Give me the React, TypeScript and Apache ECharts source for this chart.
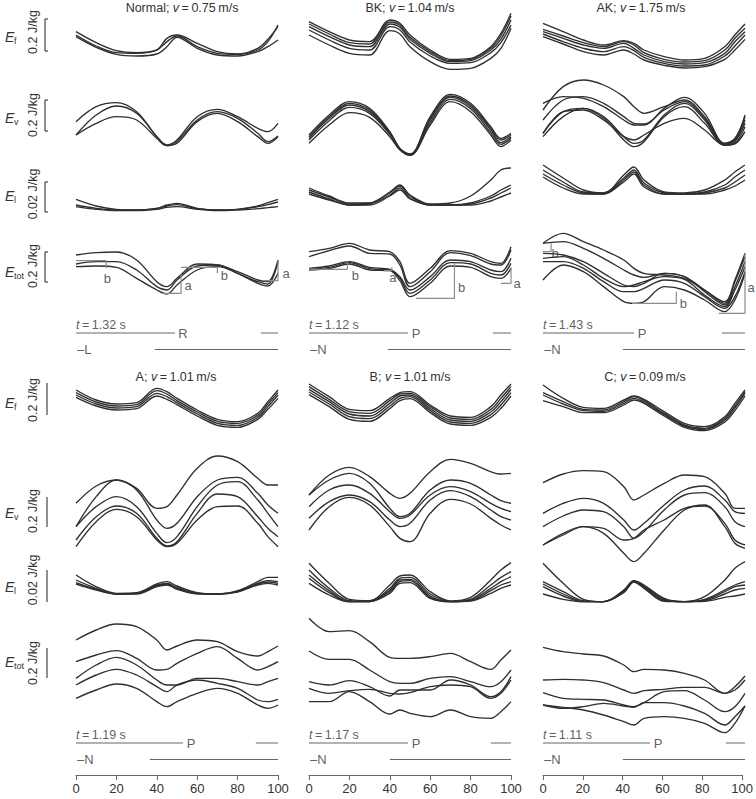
import React, { useEffect, useRef } from "react";
import * as echarts from "echarts";

// gait cycle (%) sample positions shared by every trace
const X = [0, 10, 20, 30, 40, 45, 50, 60, 70, 80, 90, 95, 100];
const X_TICKS_INTERVAL = 20;

// ---------- Normal; v = 0.75 m/s ----------
const normalEf = [
  [0.26, 0.194, 0.146, 0.134, 0.15, 0.2, 0.234, 0.17, 0.13, 0.124, 0.15, 0.2, 0.3],
  [0.24, 0.174, 0.134, 0.13, 0.15, 0.22, 0.24, 0.19, 0.14, 0.126, 0.16, 0.214, 0.29],
  [0.23, 0.166, 0.124, 0.114, 0.126, 0.17, 0.226, 0.16, 0.12, 0.114, 0.14, 0.17, 0.21],
];
const normalEv = [
  [0.23, 0.32, 0.344, 0.29, 0.14, 0.09, 0.12, 0.26, 0.304, 0.26, 0.19, 0.17, 0.22],
  [0.15, 0.27, 0.324, 0.28, 0.14, 0.086, 0.11, 0.24, 0.29, 0.25, 0.16, 0.11, 0.144],
  [0.15, 0.22, 0.26, 0.24, 0.13, 0.086, 0.1, 0.23, 0.28, 0.23, 0.14, 0.1, 0.14],
];
const normalEl = [
  [0.0094, 0.0054, 0.0034, 0.003, 0.004, 0.006, 0.007, 0.004, 0.003, 0.0034, 0.0054, 0.0074, 0.0094],
  [0.006, 0.004, 0.003, 0.003, 0.004, 0.0054, 0.0062, 0.0038, 0.003, 0.0034, 0.005, 0.0062, 0.0078],
  [0.005, 0.0034, 0.0026, 0.0026, 0.0034, 0.0046, 0.005, 0.0034, 0.0026, 0.003, 0.0038, 0.0044, 0.005],
];
const normalEtot = [
  [0.366, 0.38, 0.384, 0.336, 0.206, 0.176, 0.226, 0.312, 0.306, 0.266, 0.216, 0.206, 0.336],
  [0.312, 0.326, 0.326, 0.276, 0.176, 0.156, 0.216, 0.3, 0.306, 0.256, 0.206, 0.192, 0.326],
  [0.296, 0.3, 0.292, 0.226, 0.156, 0.132, 0.186, 0.276, 0.296, 0.256, 0.196, 0.18, 0.256],
];
const normalSteps = [
  [[0, 0.332], [15, 0.332], [15, 0.286]],
  [[43, 0.136], [52, 0.136], [52, 0.256]],
  [[52, 0.292], [70, 0.292], [70, 0.256]],
  [[93, 0.212], [100, 0.212], [100, 0.336]],
];
const normalStepLabels = [[15.5, 0.228, "b"], [55.5, 0.186, "a"], [73.5, 0.246, "b"], [104, 0.258, "a"]];

// ---------- BK; v = 1.04 m/s ----------
const bkEf = [
  [0.32, 0.26, 0.21, 0.2, 0.33, 0.31, 0.24, 0.15, 0.094, 0.1, 0.17, 0.25, 0.37],
  [0.306, 0.246, 0.194, 0.186, 0.318, 0.298, 0.226, 0.14, 0.086, 0.094, 0.16, 0.234, 0.354],
  [0.29, 0.23, 0.18, 0.17, 0.306, 0.286, 0.214, 0.13, 0.08, 0.086, 0.15, 0.214, 0.33],
  [0.27, 0.21, 0.16, 0.15, 0.29, 0.27, 0.198, 0.114, 0.07, 0.074, 0.134, 0.194, 0.3],
  [0.24, 0.18, 0.13, 0.12, 0.266, 0.246, 0.17, 0.08, 0.034, 0.04, 0.1, 0.16, 0.28],
];
const bkEv = [
  [0.15, 0.27, 0.35, 0.31, 0.17, 0.07, 0.036, 0.26, 0.394, 0.34, 0.2, 0.13, 0.16],
  [0.14, 0.26, 0.34, 0.3, 0.164, 0.068, 0.034, 0.25, 0.384, 0.33, 0.19, 0.12, 0.15],
  [0.13, 0.25, 0.33, 0.29, 0.16, 0.066, 0.032, 0.24, 0.376, 0.32, 0.18, 0.104, 0.14],
  [0.12, 0.236, 0.316, 0.28, 0.154, 0.064, 0.03, 0.224, 0.364, 0.308, 0.164, 0.094, 0.13],
  [0.1, 0.21, 0.284, 0.256, 0.14, 0.06, 0.028, 0.21, 0.35, 0.29, 0.15, 0.08, 0.12],
];
const bkEl = [
  [0.0162, 0.0114, 0.0072, 0.0072, 0.0138, 0.018, 0.012, 0.0066, 0.0072, 0.0114, 0.021, 0.027, 0.0282],
  [0.015, 0.0108, 0.0066, 0.0072, 0.0132, 0.0174, 0.0114, 0.006, 0.006, 0.0072, 0.0114, 0.015, 0.018],
  [0.0138, 0.0096, 0.006, 0.0066, 0.012, 0.0162, 0.0102, 0.006, 0.006, 0.0066, 0.0102, 0.0132, 0.0162],
  [0.0126, 0.009, 0.006, 0.006, 0.0114, 0.015, 0.0096, 0.006, 0.006, 0.006, 0.0084, 0.0108, 0.0132],
];
const bkEtot = [
  [0.386, 0.406, 0.436, 0.396, 0.386, 0.326, 0.196, 0.286, 0.392, 0.376, 0.326, 0.316, 0.416],
  [0.356, 0.392, 0.42, 0.376, 0.372, 0.306, 0.176, 0.266, 0.38, 0.362, 0.312, 0.306, 0.396],
  [0.286, 0.3, 0.326, 0.292, 0.28, 0.236, 0.156, 0.236, 0.336, 0.326, 0.276, 0.266, 0.346],
  [0.28, 0.292, 0.32, 0.284, 0.276, 0.226, 0.136, 0.216, 0.32, 0.312, 0.256, 0.246, 0.316],
  [0.276, 0.284, 0.312, 0.276, 0.272, 0.212, 0.116, 0.196, 0.3, 0.292, 0.236, 0.226, 0.286],
];
const bkSteps = [
  [[0, 0.28], [19, 0.28], [19, 0.326]],
  [[37, 0.272], [41, 0.272], [41, 0.292]],
  [[53, 0.106], [72, 0.106], [72, 0.316]],
  [[95, 0.196], [100, 0.196], [100, 0.292]],
];
const bkStepLabels = [[23, 0.246, "b"], [41.5, 0.234, "a"], [75.5, 0.174, "b"], [103, 0.198, "a"]];

// ---------- AK; v = 1.75 m/s ----------
const akEf = [
  [0.31, 0.26, 0.21, 0.18, 0.206, 0.19, 0.15, 0.11, 0.09, 0.1, 0.17, 0.24, 0.306],
  [0.274, 0.234, 0.194, 0.17, 0.2, 0.18, 0.134, 0.094, 0.078, 0.086, 0.15, 0.22, 0.28],
  [0.26, 0.22, 0.18, 0.16, 0.19, 0.16, 0.12, 0.08, 0.066, 0.074, 0.13, 0.2, 0.26],
  [0.246, 0.2, 0.16, 0.14, 0.17, 0.146, 0.106, 0.07, 0.054, 0.06, 0.114, 0.174, 0.24],
  [0.23, 0.186, 0.14, 0.12, 0.15, 0.126, 0.09, 0.058, 0.042, 0.05, 0.094, 0.15, 0.214],
];
const akEv = [
  [0.3, 0.44, 0.48, 0.45, 0.38, 0.32, 0.28, 0.32, 0.36, 0.26, 0.1, 0.12, 0.27],
  [0.34, 0.38, 0.37, 0.32, 0.24, 0.21, 0.21, 0.31, 0.376, 0.28, 0.1, 0.13, 0.26],
  [0.24, 0.36, 0.38, 0.34, 0.26, 0.22, 0.216, 0.3, 0.35, 0.25, 0.096, 0.12, 0.24],
  [0.16, 0.29, 0.31, 0.26, 0.14, 0.1, 0.12, 0.27, 0.34, 0.24, 0.09, 0.11, 0.22],
  [0.14, 0.26, 0.31, 0.25, 0.12, 0.08, 0.11, 0.26, 0.32, 0.22, 0.09, 0.1, 0.2],
  [0.16, 0.29, 0.3, 0.24, 0.14, 0.12, 0.15, 0.22, 0.25, 0.18, 0.088, 0.096, 0.17],
];
const akEl = [
  [0.03, 0.0222, 0.015, 0.0132, 0.024, 0.0288, 0.021, 0.0138, 0.0132, 0.015, 0.021, 0.0258, 0.03],
  [0.027, 0.0198, 0.0138, 0.0132, 0.0222, 0.027, 0.0192, 0.0132, 0.0126, 0.0138, 0.018, 0.0228, 0.027],
  [0.0246, 0.018, 0.0132, 0.0126, 0.021, 0.0258, 0.018, 0.0126, 0.0126, 0.0132, 0.0162, 0.0198, 0.024],
  [0.0228, 0.0162, 0.0126, 0.0126, 0.0198, 0.0246, 0.0168, 0.0126, 0.0126, 0.0126, 0.015, 0.0174, 0.021],
];
const akEtot = [
  [0.436, 0.496, 0.446, 0.396, 0.336, 0.286, 0.256, 0.246, 0.226, 0.156, 0.086, 0.216, 0.376],
  [0.436, 0.446, 0.406, 0.346, 0.276, 0.246, 0.232, 0.256, 0.236, 0.156, 0.076, 0.206, 0.356],
  [0.376, 0.366, 0.326, 0.256, 0.186, 0.176, 0.196, 0.256, 0.236, 0.146, 0.066, 0.176, 0.326],
  [0.346, 0.356, 0.306, 0.226, 0.176, 0.186, 0.206, 0.236, 0.22, 0.126, 0.056, 0.156, 0.296],
  [0.326, 0.326, 0.286, 0.206, 0.146, 0.146, 0.166, 0.216, 0.196, 0.116, 0.046, 0.116, 0.266],
  [0.216, 0.306, 0.266, 0.176, 0.086, 0.076, 0.086, 0.176, 0.156, 0.096, 0.026, 0.096, 0.256],
];
const akSteps = [
  [[0, 0.386], [4, 0.386], [4, 0.436]],
  [[44, 0.076], [66, 0.076], [66, 0.146]],
  [[87, 0.016], [100, 0.016], [100, 0.376]],
];
const akStepLabels = [[6, 0.378, "b"], [69.5, 0.078, "b"], [103, 0.174, "a"]];

// ---------- A; v = 1.01 m/s ----------
const aEf = [
  [0.27, 0.21, 0.186, 0.194, 0.28, 0.26, 0.22, 0.15, 0.094, 0.08, 0.13, 0.2, 0.27],
  [0.254, 0.198, 0.174, 0.182, 0.266, 0.246, 0.206, 0.138, 0.082, 0.07, 0.118, 0.186, 0.254],
  [0.24, 0.186, 0.162, 0.17, 0.25, 0.23, 0.194, 0.126, 0.07, 0.058, 0.106, 0.17, 0.24],
  [0.226, 0.174, 0.15, 0.158, 0.234, 0.214, 0.182, 0.114, 0.058, 0.046, 0.094, 0.154, 0.22],
];
const aEv = [
  [0.376, 0.48, 0.516, 0.466, 0.346, 0.356, 0.426, 0.586, 0.66, 0.626, 0.526, 0.486, 0.486],
  [0.236, 0.416, 0.516, 0.456, 0.276, 0.226, 0.256, 0.416, 0.516, 0.532, 0.436, 0.366, 0.316],
  [0.236, 0.356, 0.416, 0.356, 0.196, 0.14, 0.176, 0.356, 0.486, 0.506, 0.396, 0.316, 0.236],
  [0.156, 0.296, 0.36, 0.316, 0.166, 0.12, 0.146, 0.316, 0.432, 0.416, 0.296, 0.226, 0.176],
  [0.116, 0.266, 0.34, 0.296, 0.156, 0.116, 0.136, 0.276, 0.356, 0.36, 0.256, 0.176, 0.116],
];
const aEl = [
  [0.0186, 0.0116, 0.0076, 0.008, 0.0132, 0.0146, 0.012, 0.008, 0.0072, 0.0092, 0.0146, 0.0172, 0.0172],
  [0.0156, 0.0106, 0.0072, 0.0076, 0.0126, 0.0136, 0.0112, 0.0076, 0.0072, 0.0088, 0.0136, 0.0152, 0.0146],
  [0.014, 0.01, 0.0072, 0.0076, 0.012, 0.0132, 0.0106, 0.0076, 0.0072, 0.0086, 0.0132, 0.0144, 0.0136],
  [0.0132, 0.0096, 0.0072, 0.0072, 0.0116, 0.0126, 0.01, 0.0072, 0.0072, 0.0084, 0.0126, 0.0136, 0.0126],
];
const aEtot = [
  [0.576, 0.636, 0.672, 0.656, 0.576, 0.516, 0.54, 0.576, 0.566, 0.506, 0.48, 0.506, 0.54],
  [0.446, 0.486, 0.512, 0.466, 0.396, 0.4, 0.436, 0.496, 0.536, 0.466, 0.396, 0.416, 0.446],
  [0.346, 0.426, 0.472, 0.426, 0.336, 0.306, 0.306, 0.346, 0.346, 0.326, 0.306, 0.326, 0.346],
  [0.306, 0.366, 0.4, 0.366, 0.296, 0.266, 0.306, 0.336, 0.316, 0.286, 0.216, 0.206, 0.22],
  [0.226, 0.276, 0.312, 0.286, 0.206, 0.176, 0.206, 0.256, 0.286, 0.256, 0.186, 0.166, 0.186],
];

// ---------- B; v = 1.01 m/s ----------
const bEf = [
  [0.306, 0.23, 0.154, 0.146, 0.22, 0.254, 0.26, 0.18, 0.114, 0.106, 0.17, 0.24, 0.306],
  [0.29, 0.214, 0.14, 0.13, 0.206, 0.246, 0.25, 0.17, 0.102, 0.094, 0.154, 0.22, 0.29],
  [0.274, 0.2, 0.126, 0.114, 0.19, 0.234, 0.24, 0.158, 0.09, 0.082, 0.138, 0.2, 0.274],
  [0.258, 0.186, 0.11, 0.098, 0.174, 0.22, 0.23, 0.146, 0.078, 0.07, 0.122, 0.18, 0.254],
  [0.242, 0.17, 0.094, 0.082, 0.158, 0.206, 0.218, 0.134, 0.066, 0.058, 0.106, 0.16, 0.234],
];
const bEv = [
  [0.426, 0.546, 0.592, 0.536, 0.436, 0.406, 0.436, 0.566, 0.64, 0.616, 0.566, 0.552, 0.556],
  [0.426, 0.516, 0.556, 0.496, 0.346, 0.296, 0.316, 0.456, 0.516, 0.496, 0.426, 0.392, 0.376],
  [0.356, 0.456, 0.486, 0.436, 0.326, 0.286, 0.306, 0.426, 0.476, 0.446, 0.376, 0.346, 0.326],
  [0.286, 0.386, 0.426, 0.386, 0.276, 0.236, 0.256, 0.396, 0.452, 0.416, 0.336, 0.296, 0.276],
  [0.216, 0.356, 0.412, 0.366, 0.236, 0.166, 0.146, 0.316, 0.4, 0.372, 0.286, 0.246, 0.216],
];
const bEl = [
  [0.0256, 0.0136, 0.004, 0.0032, 0.0126, 0.018, 0.0186, 0.0086, 0.003, 0.0052, 0.0156, 0.0216, 0.026],
  [0.0216, 0.0106, 0.0032, 0.0028, 0.0106, 0.0166, 0.0172, 0.0072, 0.0026, 0.004, 0.0126, 0.0172, 0.0206],
  [0.0186, 0.0092, 0.0026, 0.0026, 0.0096, 0.0156, 0.016, 0.006, 0.0026, 0.0036, 0.0106, 0.0146, 0.0176],
  [0.0166, 0.008, 0.0026, 0.0026, 0.0086, 0.0146, 0.0152, 0.0052, 0.0026, 0.0032, 0.0092, 0.0126, 0.0146],
  [0.0136, 0.0066, 0.0026, 0.0026, 0.0076, 0.0136, 0.014, 0.0046, 0.0026, 0.003, 0.0076, 0.0106, 0.0126],
];
const bEtot = [
  [0.706, 0.626, 0.632, 0.566, 0.472, 0.466, 0.466, 0.476, 0.496, 0.446, 0.4, 0.456, 0.516],
  [0.51, 0.46, 0.46, 0.396, 0.326, 0.316, 0.316, 0.346, 0.356, 0.326, 0.296, 0.326, 0.396],
  [0.326, 0.306, 0.332, 0.296, 0.24, 0.276, 0.276, 0.276, 0.336, 0.306, 0.236, 0.266, 0.356],
  [0.286, 0.256, 0.272, 0.28, 0.256, 0.252, 0.26, 0.296, 0.306, 0.296, 0.226, 0.256, 0.336],
  [0.206, 0.206, 0.266, 0.206, 0.132, 0.156, 0.136, 0.116, 0.156, 0.116, 0.106, 0.146, 0.206],
];

// ---------- C; v = 0.09 m/s ----------
const cEf = [
  [0.3, 0.22, 0.166, 0.16, 0.21, 0.234, 0.214, 0.14, 0.07, 0.05, 0.11, 0.19, 0.27],
  [0.254, 0.2, 0.154, 0.15, 0.2, 0.23, 0.206, 0.13, 0.06, 0.04, 0.1, 0.174, 0.26],
  [0.24, 0.186, 0.146, 0.142, 0.19, 0.22, 0.198, 0.122, 0.054, 0.034, 0.09, 0.162, 0.25],
  [0.206, 0.17, 0.134, 0.134, 0.18, 0.21, 0.19, 0.114, 0.046, 0.026, 0.078, 0.146, 0.234],
];
const cEv = [
  [0.5, 0.552, 0.572, 0.566, 0.476, 0.396, 0.426, 0.496, 0.546, 0.536, 0.436, 0.346, 0.346],
  [0.316, 0.376, 0.406, 0.376, 0.276, 0.216, 0.256, 0.366, 0.456, 0.48, 0.396, 0.326, 0.316],
  [0.236, 0.3, 0.336, 0.326, 0.236, 0.166, 0.206, 0.336, 0.426, 0.44, 0.356, 0.266, 0.236],
  [0.126, 0.196, 0.236, 0.226, 0.156, 0.166, 0.216, 0.276, 0.346, 0.36, 0.256, 0.156, 0.126],
  [0.126, 0.186, 0.236, 0.196, 0.076, 0.026, 0.076, 0.216, 0.336, 0.366, 0.236, 0.136, 0.106],
];
const cEl = [
  [0.0256, 0.0136, 0.004, 0.0026, 0.0096, 0.0152, 0.0126, 0.0046, 0.0026, 0.0056, 0.0156, 0.0226, 0.0266],
  [0.0146, 0.0086, 0.0032, 0.0026, 0.0092, 0.015, 0.012, 0.004, 0.0026, 0.004, 0.0096, 0.0126, 0.0146],
  [0.0132, 0.0072, 0.0028, 0.0026, 0.0088, 0.0148, 0.0116, 0.0036, 0.0026, 0.0036, 0.0086, 0.0116, 0.0126],
  [0.0116, 0.006, 0.0026, 0.0026, 0.0084, 0.0146, 0.0112, 0.0032, 0.0026, 0.0032, 0.0072, 0.0096, 0.0106],
  [0.0072, 0.004, 0.0026, 0.0026, 0.008, 0.0144, 0.0106, 0.0028, 0.0026, 0.0028, 0.0052, 0.006, 0.0072],
];
const cEtot = [
  [0.532, 0.506, 0.492, 0.48, 0.426, 0.386, 0.4, 0.396, 0.376, 0.336, 0.256, 0.296, 0.36],
  [0.336, 0.34, 0.336, 0.32, 0.276, 0.256, 0.272, 0.28, 0.292, 0.292, 0.256, 0.276, 0.336],
  [0.26, 0.226, 0.22, 0.216, 0.186, 0.176, 0.2, 0.266, 0.272, 0.216, 0.146, 0.176, 0.256],
  [0.186, 0.166, 0.176, 0.196, 0.18, 0.172, 0.2, 0.2, 0.18, 0.136, 0.066, 0.116, 0.18],
  [0.186, 0.172, 0.156, 0.126, 0.086, 0.066, 0.106, 0.116, 0.106, 0.076, 0.02, 0.076, 0.18],
];

// ---------- titles & gait phases ----------
const PANEL_NAMES = ["Normal", "BK", "AK", "A", "B", "C"];
const PANEL_SPEEDS = ["0.75", "1.04", "1.75", "1.01", "1.01", "0.09"];
const CYCLE_TIMES = ["1.32", "1.12", "1.43", "1.19", "1.17", "1.11"];
const PHASE_A_LABEL = ["R", "P", "P", "P", "P", "P"];
const PHASE_A_END = [49, 49, 45, 53, 49, 53];
const PHASE_A_RESUME = [91.5, 91, 88.5, 89, 90, 90.5];
const PHASE_B_LABEL = ["\u2013L", "\u2013N", "\u2013N", "\u2013N", "\u2013N", "\u2013N"];
const PHASE_B_START = [39, 39, 39.5, 36.5, 40, 39.5];

const CURVES = [
  { Ef: normalEf, Ev: normalEv, El: normalEl, Etot: normalEtot, steps: normalSteps, stepLabels: normalStepLabels },
  { Ef: bkEf, Ev: bkEv, El: bkEl, Etot: bkEtot, steps: bkSteps, stepLabels: bkStepLabels },
  { Ef: akEf, Ev: akEv, El: akEl, Etot: akEtot, steps: akSteps, stepLabels: akStepLabels },
  { Ef: aEf, Ev: aEv, El: aEl, Etot: aEtot, steps: [], stepLabels: [] },
  { Ef: bEf, Ev: bEv, El: bEl, Etot: bEtot, steps: [], stepLabels: [] },
  { Ef: cEf, Ev: cEv, El: cEl, Etot: cEtot, steps: [], stepLabels: [] },
];

// ---------- layout (pixels) ----------
const FONT = '"Liberation Sans", Arial, Helvetica, sans-serif';
const INK = "#333";
const LINE = "#2f2f2f";
const COL_LEFT = [76, 309, 543];
const COL_WIDTH = 202;
const TITLE_X = [182, 410, 641, 176, 410, 645];
const TITLE_Y = [8, 377];
const KINDS = ["Ef", "Ev", "El", "Etot"];
const HALF_LAYOUT: any[] = [
  { Ef: [8, 67], Ev: [76, 84], El: [160, 55], Etot: [222, 94], phase: 316 },
  { Ef: [378, 57], Ev: [445, 121], El: [558, 48], Etot: [612, 124], phase: 726 },
];
const UNIT_PER_PX: any = { Ef: 0.006, Ev: 0.006, El: 0.0006, Etot: 0.006 };
const SUBS: any = { Ef: "f", Ev: "v", El: "l", Etot: "tot" };
const SCALE_TEXT: any = { Ef: "0.2 J/kg", Ev: "0.2 J/kg", El: "0.02 J/kg", Etot: "0.2 J/kg" };
const LEFT_LABELS: any[] = [
  { Ef: 37, Ev: 118, El: 196, Etot: 272 },
  { Ef: 403, Ev: 513, El: 587, Etot: 662 },
];
const SCALE_BARS: any[] = [
  { x: 45, caps: true, Ef: [19, 51, 32], Ev: [100, 131, 115], El: [182, 212, 194], Etot: [252, 282, 266] },
  { x: 47, caps: false, Ef: [383, 415, 400], Ev: [497, 527, 511], El: [570, 602, 580], Etot: [648, 678, 663] },
];

function buildOption() {
  const grid: any[] = [];
  const xAxis: any[] = [];
  const yAxis: any[] = [];
  const series: any[] = [];
  const graphic: any[] = [];

  const addGrid = (left: number, top: number, height: number, ymax: number) => {
    const idx = grid.length;
    grid.push({ left, top, width: COL_WIDTH, height, containLabel: false });
    xAxis.push({ gridIndex: idx, type: "value", min: 0, max: 100, show: false });
    yAxis.push({ gridIndex: idx, type: "value", min: 0, max: ymax, show: false });
    return idx;
  };

  const textPoint = (gi: number, pts: any[], align: string, size = 12.5, rich?: any) => ({
    type: "scatter",
    xAxisIndex: gi,
    yAxisIndex: gi,
    symbolSize: 0,
    clip: false,
    silent: true,
    data: pts.map((p) => ({ value: [p[0], p[1]], name: p[2] })),
    label: {
      show: true,
      position: "inside",
      align,
      verticalAlign: "middle",
      formatter: (d: any) => d.name,
      color: INK,
      fontSize: size,
      fontFamily: FONT,
      rich,
    },
  });

  CURVES.forEach((panel: any, i) => {
    const half = i < 3 ? 0 : 1;
    const col = i % 3;
    const L = HALF_LAYOUT[half];
    KINDS.forEach((kind) => {
      const [top, h] = L[kind];
      const gi = addGrid(COL_LEFT[col], top, h, +(h * UNIT_PER_PX[kind]).toFixed(5));
      panel[kind].forEach((arr: number[]) => {
        series.push({
          type: "line",
          xAxisIndex: gi,
          yAxisIndex: gi,
          data: X.map((x, k) => [x, arr[k]]),
          smooth: 0.35,
          symbol: "none",
          silent: true,
          lineStyle: { color: LINE, width: 1.35 },
        });
      });
      if (kind === "Etot") {
        panel.steps.forEach((st: number[][]) => {
          series.push({
            type: "line",
            xAxisIndex: gi,
            yAxisIndex: gi,
            data: st,
            symbol: "none",
            silent: true,
            clip: false,
            lineStyle: { color: "#8c8c8c", width: 1.2 },
          });
        });
        if (panel.stepLabels.length) series.push(textPoint(gi, panel.stepLabels, "center", 13));
      }
    });

    // gait phase bars
    const pg = addGrid(COL_LEFT[col], L.phase, 40, 4);
    const phaseLine = (a: number, b: number, y: number) => ({
      type: "line",
      xAxisIndex: pg,
      yAxisIndex: pg,
      data: [[a, y], [b, y]],
      symbol: "none",
      silent: true,
      lineStyle: { color: "#666", width: 1.2 },
    });
    series.push(phaseLine(0, PHASE_A_END[i], 2.3));
    series.push(phaseLine(PHASE_A_RESUME[i], 100, 2.3));
    series.push(phaseLine(PHASE_B_START[i], 100, 0.65));
    series.push(
      textPoint(pg, [[PHASE_A_END[i] + 4, 2.3, PHASE_A_LABEL[i]]], "center", 13)
    );
    series.push(textPoint(pg, [[0.5, 0.65, PHASE_B_LABEL[i]]], "left", 13));
    series.push(
      textPoint(pg, [[0, 3.15, "{i|t}{n|\u2009=\u2009" + CYCLE_TIMES[i] + " s}"]], "left", 12.5, {
        i: { fontStyle: "italic", fontSize: 12.5, fontFamily: FONT, color: INK },
        n: { fontSize: 12.5, fontFamily: FONT, color: INK },
      })
    );

    // panel title
    graphic.push({
      type: "text",
      x: TITLE_X[i],
      y: TITLE_Y[half],
      silent: true,
      style: {
        text: "{n|" + PANEL_NAMES[i] + "; }{i|v}{n|\u2009=\u2009" + PANEL_SPEEDS[i] + "\u2009m/s}",
        align: "center",
        verticalAlign: "middle",
        rich: {
          n: { fontSize: 12.5, fontFamily: FONT, fill: INK },
          i: { fontSize: 12.5, fontFamily: FONT, fontStyle: "italic", fill: INK },
        },
      },
    });
  });

  // bottom x axes
  [0, 1, 2].forEach((col) => {
    const idx = grid.length;
    grid.push({ left: COL_LEFT[col], top: 774, width: COL_WIDTH, height: 1, containLabel: false });
    xAxis.push({
      gridIndex: idx,
      type: "value",
      min: 0,
      max: 100,
      interval: X_TICKS_INTERVAL,
      position: "bottom",
      axisLine: { show: true, lineStyle: { color: "#666", width: 1 } },
      axisTick: { show: true, length: 5, lineStyle: { color: "#666", width: 1 } },
      axisLabel: { show: true, fontSize: 13, color: INK, fontFamily: FONT, margin: 7, showMinLabel: true, showMaxLabel: true },
      splitLine: { show: false },
    });
    yAxis.push({ gridIndex: idx, type: "value", min: 0, max: 1, show: false });
  });

  // left-hand row labels and scale bars
  [0, 1].forEach((half) => {
    KINDS.forEach((kind) => {
      const cy = LEFT_LABELS[half][kind];
      graphic.push({
        type: "text",
        x: 5,
        y: cy,
        silent: true,
        style: { text: "E", fontSize: 14, fontStyle: "italic", fontFamily: FONT, fill: INK, align: "left", verticalAlign: "middle" },
      });
      graphic.push({
        type: "text",
        x: 14,
        y: cy + 4,
        silent: true,
        style: { text: SUBS[kind], fontSize: 9, fontFamily: FONT, fill: INK, align: "left", verticalAlign: "middle" },
      });
      const sb = SCALE_BARS[half];
      const [y1, y2, ty] = sb[kind];
      graphic.push({
        type: "line",
        silent: true,
        shape: { x1: sb.x, y1, x2: sb.x, y2 },
        style: { stroke: "#444", lineWidth: 1.2 },
      });
      if (sb.caps) {
        graphic.push({ type: "line", silent: true, shape: { x1: sb.x, y1, x2: sb.x + 3, y2: y1 }, style: { stroke: "#444", lineWidth: 1.2 } });
        graphic.push({ type: "line", silent: true, shape: { x1: sb.x, y1: y2, x2: sb.x + 3, y2 }, style: { stroke: "#444", lineWidth: 1.2 } });
      }
      graphic.push({
        type: "text",
        x: 33,
        y: ty,
        rotation: Math.PI / 2,
        silent: true,
        style: { text: SCALE_TEXT[kind], fontSize: 12.5, fontFamily: FONT, fill: INK, align: "center", verticalAlign: "middle" },
      });
    });
  });

  return {
    animation: false,
    backgroundColor: "#fff",
    grid,
    xAxis,
    yAxis,
    series,
    graphic,
  };
}

export default function App() {
  const ref = useRef<HTMLDivElement>(null);
  useEffect(() => {
    document.body.style.margin = "0";
    const chart = echarts.init(ref.current as HTMLDivElement, null, { renderer: "svg" });
    chart.setOption(buildOption() as any);
    return () => chart.dispose();
  }, []);
  return <div ref={ref} style={{ width: 756, height: 799 }} />;
}
